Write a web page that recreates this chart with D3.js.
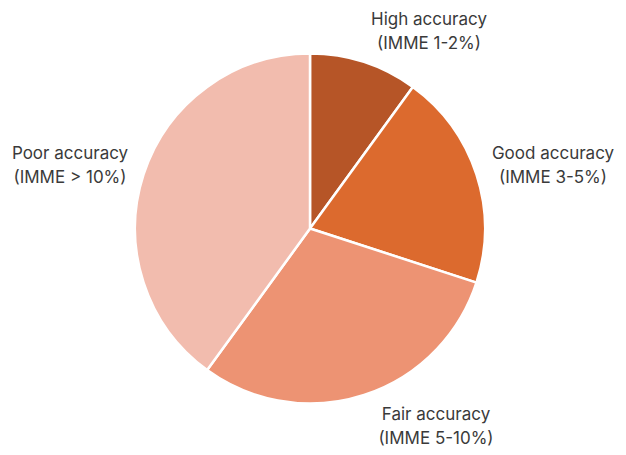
<!DOCTYPE html>
<html><head><meta charset="utf-8">
<script src="https://cdn.jsdelivr.net/npm/d3@7"></script>
<style>body{margin:0;background:#fff;} svg{display:block;}</style>
</head><body>
<svg id="chart" width="626" height="455"></svg>
<script>
const categories = ["High accuracy", "Good accuracy", "Fair accuracy", "Poor accuracy"];
const subLabels = ["(IMME 1-2%)", "(IMME 3-5%)", "(IMME 5-10%)", "(IMME > 10%)"];
const values = [10, 20, 30, 40];
const colors = ["#B65527", "#DC6A2E", "#ED9373", "#F2BCAE"];
// label anchor points (layout, px)
const labelXY = [[429, 19], [553, 153], [436, 414], [70, 153]];

const svg = d3.select("#chart");
const cx = 310, cy = 228.5, r = 175;
const g = svg.append("g").attr("transform", `translate(${cx},${cy})`);
const pie = d3.pie().sort(null).value(d => d);
const arc = d3.arc().innerRadius(0).outerRadius(r);
g.selectAll("path").data(pie(values)).join("path")
  .attr("d", arc)
  .attr("fill", (d, i) => colors[i])
  .attr("stroke", "#fff").attr("stroke-width", 2.5).attr("stroke-linejoin", "round");

const lab = svg.append("g").attr("font-family", "Inter, sans-serif")
  .attr("font-size", 17).attr("fill", "#3a3a3a").attr("text-anchor", "middle");
categories.forEach((c, i) => {
  const t = lab.append("text").attr("x", labelXY[i][0]).attr("y", labelXY[i][1]).attr("dominant-baseline", "central");
  t.append("tspan").attr("x", labelXY[i][0]).attr("dy", 0).text(c);
  t.append("tspan").attr("x", labelXY[i][0]).attr("dy", 23.5).text(subLabels[i]);
});
</script>
</body></html>
